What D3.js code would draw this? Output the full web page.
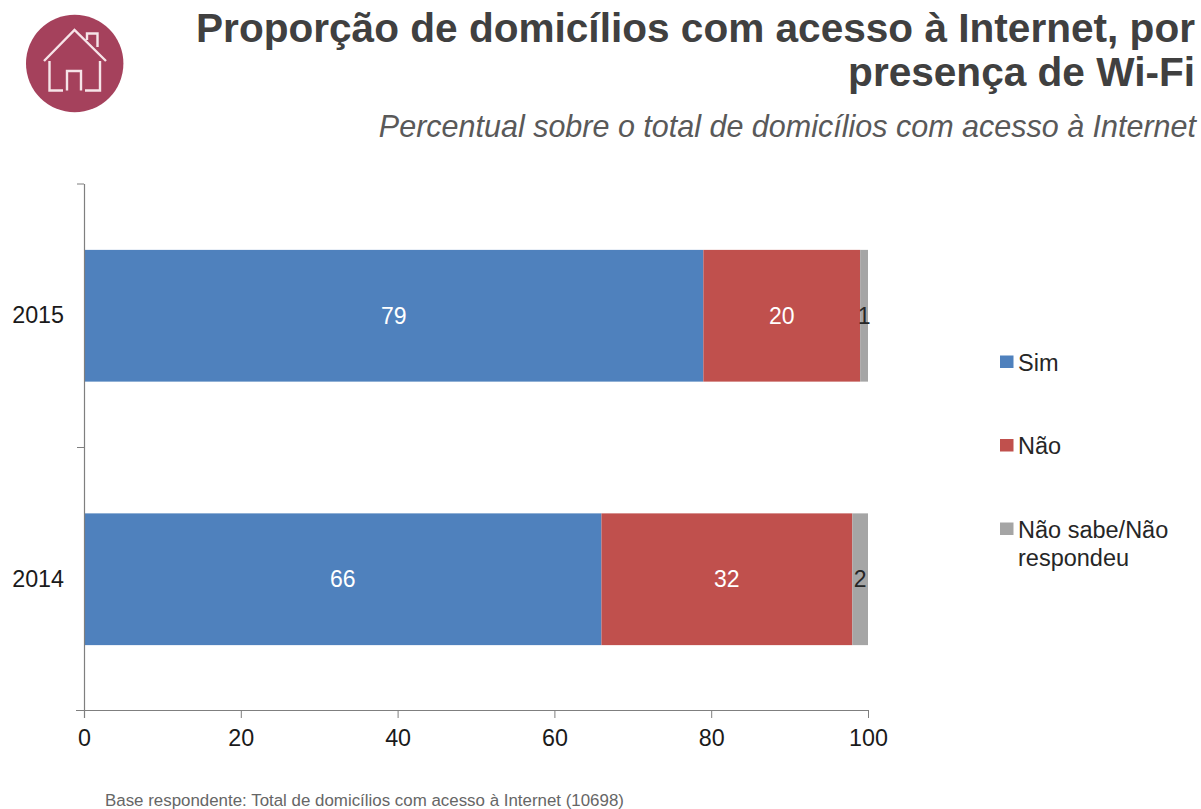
<!DOCTYPE html>
<html lang="pt-BR">
<head>
<meta charset="utf-8">
<title>Proporção de domicílios com acesso à Internet</title>
<script src="https://cdn.jsdelivr.net/npm/d3@7/dist/d3.min.js"></script>
<style>
html,body{margin:0;padding:0;background:#fff;}
svg{display:block;font-family:"Liberation Sans",Arial,sans-serif;}
</style>
</head>
<body>
<svg id="chart" width="1201" height="809"></svg>
<script>
// Survey results, one entry per series, in stacking order
const years = ["2015", "2014"];
const seriesNames = ["Sim", "Não", "Não sabe/Não respondeu"];
const sim = [79, 66];
const nao = [20, 32];
const naoSabe = [1, 2];
const xTicks = [0, 20, 40, 60, 80, 100];
const seriesColors = ["#4f81bd", "#c0504d", "#a5a5a5"];
const labelColors = ["#ffffff", "#ffffff", "#262626"];

const svg = d3.select("#chart");
const plot = {left: 84, right: 868, top: 184, bottom: 711};

const x = d3.scaleLinear().domain([0, 100]).range([plot.left, plot.right]);
const y = d3.scaleBand().domain(years).range([plot.top, plot.bottom]).paddingInner(0.5).paddingOuter(0.25);

// Header: icon badge, title and subtitle
const icon = svg.append("g");
icon.append("circle").attr("cx", 74.7).attr("cy", 63.5).attr("r", 48.7).attr("fill", "#a5415c");
icon.append("path")
  .attr("d", "M44 61 L74.5 30 L106 61 M87 40 V33.5 H97.5 V47 M49.5 61 V90.5 H63 M67 90.5 V71 H81 V90.5 M85 90.5 H100 V61")
  .attr("fill", "none").attr("stroke", "#f6e4e8").attr("stroke-width", 2.4);

const titleLines = ["Proporção de domicílios com acesso à Internet, por", "presença de Wi-Fi"];
svg.selectAll("text.title").data(titleLines).join("text")
  .attr("class", "title")
  .attr("x", 1195)
  .attr("y", (d, i) => 41.5 + i * 44)
  .attr("text-anchor", "end")
  .attr("font-size", 40.6)
  .attr("font-weight", "bold")
  .attr("fill", "#404040")
  .text(d => d);

svg.append("text")
  .attr("x", 1196).attr("y", 136.5)
  .attr("text-anchor", "end")
  .attr("font-size", 30.5)
  .attr("font-style", "italic")
  .attr("fill", "#595959")
  .text("Percentual sobre o total de domicílios com acesso à Internet");

// Stacked bars
const rows = years.map((year, i) => ({year, Sim: sim[i], "Não": nao[i], "Não sabe/Não respondeu": naoSabe[i]}));
const stacked = d3.stack().keys(seriesNames)(rows);

const layers = svg.selectAll("g.layer").data(stacked).join("g")
  .attr("class", "layer");

layers.selectAll("rect").data(d => d).join("rect")
  .attr("x", d => x(d[0]))
  .attr("y", d => y(d.data.year))
  .attr("width", d => x(d[1]) - x(d[0]))
  .attr("height", y.bandwidth())
  .attr("fill", (d, i, n) => seriesColors[seriesNames.indexOf(d3.select(n[i].parentNode).datum().key)]);

layers.selectAll("text").data(d => d).join("text")
  .attr("x", d => (x(d[0]) + x(d[1])) / 2)
  .attr("y", d => y(d.data.year) + y.bandwidth() / 2 + 8)
  .attr("text-anchor", "middle")
  .attr("font-size", 23)
  .attr("fill", (d, i, n) => labelColors[seriesNames.indexOf(d3.select(n[i].parentNode).datum().key)])
  .text(d => d[1] - d[0]);

// Axes
const xAxis = svg.append("g")
  .attr("transform", `translate(0,${plot.bottom - 1})`)
  .call(d3.axisBottom(x).tickValues(xTicks).tickSize(8).tickPadding(11).tickSizeOuter(0));
xAxis.select(".domain").attr("stroke", "#7f7f7f").attr("stroke-width", 1.2)
  .attr("d", `M${plot.left - 8},0.5H${plot.right}`);
xAxis.selectAll(".tick line").attr("stroke", "#7f7f7f");
xAxis.selectAll(".tick text")
  .attr("font-family", "'Liberation Sans',Arial,sans-serif")
  .attr("font-size", 23.3).attr("fill", "#1a1a1a");

const yAxis = svg.append("g")
  .attr("transform", `translate(${plot.left},0)`)
  .call(d3.axisLeft(y).tickSize(0).tickPadding(20));
yAxis.select(".domain").attr("stroke", "#7f7f7f").attr("stroke-width", 1.2)
  .attr("d", `M0.5,${plot.top}V${plot.bottom + 7}`);
yAxis.selectAll(".tick text")
  .attr("font-family", "'Liberation Sans',Arial,sans-serif")
  .attr("font-size", 23.3).attr("fill", "#1a1a1a");

// Category separators on the vertical axis
const separators = [plot.top, (plot.top + plot.bottom) / 2];
svg.selectAll("line.sep").data(separators).join("line")
  .attr("class", "sep")
  .attr("x1", plot.left - 7).attr("x2", plot.left)
  .attr("y1", d => d).attr("y2", d => d)
  .attr("stroke", "#7f7f7f");

// Legend
const legendRows = [
  {lines: ["Sim"], top: 355.5},
  {lines: ["Não"], top: 439},
  {lines: ["Não sabe/Não", "respondeu"], top: 522.5}
];
const legend = svg.selectAll("g.legend").data(legendRows).join("g")
  .attr("class", "legend")
  .attr("transform", d => `translate(1000,${d.top})`);
legend.append("rect")
  .attr("width", 13.5).attr("height", 12.5)
  .attr("fill", (d, i) => seriesColors[i]);
legend.each(function(d) {
  d3.select(this).selectAll("text").data(d.lines).join("text")
    .attr("x", 18)
    .attr("y", (t, i) => 15 + i * 28)
    .attr("font-size", 23.5)
    .attr("fill", "#262626")
    .text(t => t);
});

// Footnote
svg.append("text")
  .attr("x", 105).attr("y", 806)
  .attr("font-size", 16.9)
  .attr("fill", "#666666")
  .text("Base respondente: Total de domicílios com acesso à Internet (10698)");
</script>
</body>
</html>
